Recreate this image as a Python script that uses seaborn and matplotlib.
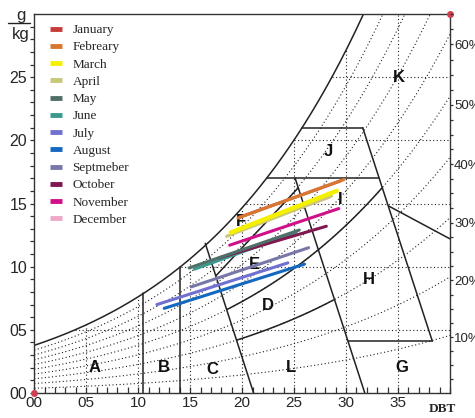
import numpy as np
import pandas as pd
import matplotlib
matplotlib.use("Agg")
import matplotlib.pyplot as plt
import seaborn as sns

# monthly climate lines (dry bulb C, humidity ratio g/kg), min -> max
months = ['January', 'Febreary', 'March', 'April', 'May', 'June', 'July',
          'August', 'Septmeber', 'October', 'November', 'December']
colors = ['#c83c3c', '#d87830', '#f5f000', '#c8c87a', '#4f7068', '#3a9a90',
          '#7070d0', '#1468c0', '#7878a8', '#801850', '#d0108a', '#f0a8c8']
t_min = [19.7, 19.6, 18.9, 18.5, 14.9, 15.4, 11.8, 12.5, 15.1, 17.8, 18.8, 19.3]
w_min = [13.9, 13.85, 12.7, 12.4, 9.9, 9.8, 7.0, 6.7, 8.4, 10.7, 11.7, 12.8]
t_max = [29.5, 29.8, 29.1, 28.6, 25.5, 25.2, 24.4, 26.0, 26.4, 28.1, 29.3, 28.4]
w_max = [16.8, 16.9, 16.0, 15.6, 12.9, 12.7, 10.3, 10.2, 11.5, 13.2, 14.6, 15.5]

# zone labels
zone_names = ['A', 'B', 'C', 'L', 'G', 'D', 'E', 'F', 'H', 'I', 'J', 'K']
zone_t = [5.8, 12.5, 17.1, 24.7, 35.4, 22.5, 21.2, 19.9, 32.2, 29.4, 28.3, 35.1]
zone_w = [2.0, 2.0, 1.85, 2.0, 2.0, 6.9, 10.2, 13.6, 9.0, 15.3, 19.1, 25.0]

# straight zone boundaries (t1, w1, t2, w2)
seg_t1 = [21.1, 17.5, 31.8, 31.6, 30.2, 34.1]
seg_w1 = [0.0, 9.3, 0.0, 21.0, 4.1, 14.8]
seg_t2 = [16.45, 25.35, 25.1, 38.3, 38.3, 40.0]
seg_w2 = [11.85, 16.2, 17.0, 4.1, 4.1, 12.2]
# vertical boundaries up to saturation
vert_t = [10.5, 14.0]
# horizontal boundaries from saturation to (w, t_end)
horiz_w = [17.0, 21.0]
horiz_tend = [33.2, 31.6]
# boundaries along RH curves (rh, t_start, t_end)
rh_bound = [0.30, 0.50]
rh_t0 = [19.5, 18.6]
rh_t1 = [28.8, 33.45]

rh_levels = [0.1, 0.2, 0.3, 0.4, 0.5, 0.6, 0.7, 0.8, 0.9]
right_ticks = [0.1, 0.2, 0.3, 0.4, 0.5, 0.6]


def w_of(t, rh):
    es = 610.94 * np.exp(17.625 * t / (t + 243.04))
    pv = rh * es
    return 622.0 * pv / (101325.0 - pv)


tt = np.linspace(0, 40, 400)
wsat = w_of(tt, 1.0)


def t_sat(w):
    return np.interp(w, wsat, tt)


sns.set_theme(style="white")
plt.rcParams['font.family'] = ['Liberation Sans Narrow', 'Liberation Sans', 'DejaVu Sans']

fig = plt.figure(figsize=(4.75, 4.18), dpi=100)
ax = fig.add_axes([34.3 / 475, 25 / 418, (450 - 34.3) / 475, (393 - 14) / 418])

dot = dict(color='#222222', lw=0.8, ls=(0, (1, 2.2)))
# RH curves
for rh in rh_levels:
    ax.plot(tt, w_of(tt, rh), **dot)
# grid clipped under the saturation curve
for t in range(5, 40, 5):
    ax.plot([t, t], [0, min(w_of(t, 1.0), 30)], **dot)
for w in range(5, 30, 5):
    ax.plot([t_sat(w), 40], [w, w], **dot)

line = dict(color='#222222', lw=1.1)
ax.plot(tt, wsat, **line)
for t in vert_t:
    ax.plot([t, t], [0, w_of(t, 1.0)], **line)
for w, te in zip(horiz_w, horiz_tend):
    ax.plot([t_sat(w), te], [w, w], **line)
for rh, a, b in zip(rh_bound, rh_t0, rh_t1):
    tr = np.linspace(a, b, 50)
    ax.plot(tr, w_of(tr, rh), **line)
for a, b, c, d in zip(seg_t1, seg_w1, seg_t2, seg_w2):
    ax.plot([a, c], [b, d], **line)

for name, t, w in zip(zone_names, zone_t, zone_w):
    ax.text(t, w, name, ha='center', va='center', fontsize=12, fontweight='bold', color='#111111')

# monthly lines
df = pd.DataFrame({
    'month': months * 2,
    'DBT': t_min + t_max,
    'W': w_min + w_max,
})
palette = dict(zip(months, colors))
sns.lineplot(data=df, x='DBT', y='W', hue='month', hue_order=months, palette=palette,
             sort=False, lw=2.2, legend=False, ax=ax)
order_z = [3.1, 3.2, 3.5, 3.3, 3.1, 3.0, 3.1, 3.2, 3.0, 3.0, 3.0, 3.2]
month_lines = ax.lines[-12:]
for ln, z, m in zip(month_lines, order_z, months):
    ln.set_zorder(z)
    if m == 'March':
        ln.set_linewidth(3.2)
ax.set_xlabel('')
ax.set_ylabel('')
ax.set_xlim(0, 40)
ax.set_ylim(0, 30)

handles = [plt.Line2D([], [], color=c, lw=3.5, solid_capstyle='butt') for c in colors]
leg = ax.legend(handles, months, loc='upper left', bbox_to_anchor=(50 / 475, 1 - 24 / 418),
                bbox_transform=fig.transFigure, frameon=False, borderpad=0, borderaxespad=0,
                handlelength=0.9, handletextpad=0.8, labelspacing=0.38,
                prop={'family': 'Liberation Serif', 'size': 9.5})

# axes styling
for s in ax.spines.values():
    s.set_color('#333333')
    s.set_linewidth(1.0)
ax.set_xticks(range(0, 40, 5))
ax.set_xticklabels(['00', '05', '10', '15', '20', '25', '30', '35'])
ax.set_xticks(range(0, 41), minor=True)
ax.set_yticks(range(0, 30, 5))
ax.set_yticklabels(['00', '05', '10', '15', '20', '25'])
ax.set_yticks(np.arange(0, 30, 1), minor=True)
ax.tick_params(axis='x', which='both', direction='in', length=4, width=0.9, color='#333333',
               labelsize=11, pad=2, bottom=True)
ax.tick_params(axis='y', which='both', direction='out', length=3, width=0.9, color='#333333',
               labelsize=11.5, pad=2, left=True)

ax2 = ax.twinx()
ax2.set_ylim(0, 30)
ax2.set_yticks([w_of(40, r) for r in right_ticks])
ax2.set_yticklabels(['%d%%' % round(r * 100) for r in right_ticks])
ax2.set_yticks([w_of(40, r) for r in np.arange(0.025, 0.66, 0.025)], minor=True)
ax2.tick_params(axis='y', which='both', direction='out', length=2.5, width=0.9, color='#333333',
                labelsize=9.5, pad=0.5, right=True)
ax2.grid(False)
for s in ax2.spines.values():
    s.set_visible(False)

# unit label and DBT label
ax.text(-1.25, 29.85, 'g', ha='center', va='center', fontsize=12, clip_on=False)
ax.plot([-2.55, -0.45], [29.3, 29.3], color='#222222', lw=1.0, clip_on=False)
ax.text(-1.35, 28.4, 'kg', ha='center', va='center', fontsize=12, clip_on=False)
ax.text(39.3, -1.3, 'DBT', ha='center', va='center', fontsize=9.5, fontweight='bold',
        family='Liberation Serif', clip_on=False)

# corner markers
ax.plot([0, 40], [0, 30], ls='none', marker='o', ms=4, color='#d04050', clip_on=False, zorder=5)

fig.savefig('out.png', dpi=100)
